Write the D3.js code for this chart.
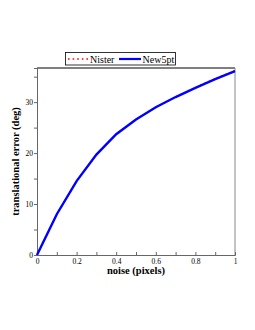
<!DOCTYPE html>
<html><head><meta charset="utf-8">
<script src="https://cdn.jsdelivr.net/npm/d3@7"></script>
<style>body{margin:0;background:#fff}svg{display:block}</style>
</head><body>
<script>
const noise = [0,0.1,0.2,0.3,0.4,0.5,0.6,0.7,0.8,0.9,1.0];
const nister = [0,8.0,14.5,19.7,23.7,26.6,29.0,31.0,32.9,34.6,36.2];
const new5pt = [0,8.0,14.5,19.7,23.7,26.6,29.0,31.0,32.8,34.5,36.1];
const xTicks = [0,0.2,0.4,0.6,0.8,1];
const yTicks = [0,10,20,30];
const seriesNames = ["Nister","New5pt"];

const W=255,H=330;
const m={l:37,r:20,t:68,b:75};
const svg=d3.select("body").append("svg").attr("width",W).attr("height",H);
const x=d3.scaleLinear().domain([0,1]).range([m.l,W-m.r]);
const y=d3.scaleLinear().domain([0,36.7]).range([H-m.b,m.t]);
const font="Liberation Serif, Times New Roman, serif";

// frame
svg.append("line").attr("x1",x(0)).attr("x2",x(1)).attr("y1",y.range()[1]).attr("y2",y.range()[1]).attr("stroke","#000");
svg.append("line").attr("x1",x(1)).attr("x2",x(1)).attr("y1",y.range()[0]).attr("y2",y.range()[1]).attr("stroke","#888");

// axes
const xa=svg.append("g").attr("transform",`translate(0,${y(0)})`)
  .call(d3.axisBottom(x).tickValues(d3.range(0,1.01,0.1)).tickSize(-3).tickFormat(d=>xTicks.some(t=>Math.abs(t-d)<1e-6)?d3.format("~g")(d):""));
const ya=svg.append("g").attr("transform",`translate(${x(0)},0)`)
  .call(d3.axisLeft(y).tickValues(d3.range(0,36,5)).tickSize(3).tickFormat(d=>yTicks.includes(d)?d:""));
[xa,ya].forEach(g=>{g.selectAll("path").attr("stroke","#666");g.selectAll("line").attr("stroke","#666");
  g.selectAll("text").attr("font-family",font).attr("font-size",7.5).attr("fill","#000");});
xa.selectAll("text").attr("y",4).attr("dy","0.71em");
ya.selectAll("text").attr("x",-4);

// lines
const pts=v=>noise.map((n,i)=>[x(n),y(v[i])]);
svg.append("path").attr("d",d3.line()(pts(nister))).attr("fill","none").attr("stroke","#ff0000").attr("stroke-width",1.4).attr("stroke-dasharray","1.5,3");
svg.append("path").attr("d",d3.line()(pts(new5pt))).attr("fill","none").attr("stroke","#0000ff").attr("stroke-width",2.4);

// labels
svg.append("text").attr("x",(x(0)+x(1))/2).attr("y",274).attr("text-anchor","middle")
  .attr("font-family",font).attr("font-weight","bold").attr("font-size",10.5).text("noise (pixels)");
svg.append("text").attr("transform",`translate(19,${(y(0)+y(36.7))/2}) rotate(-90)`).attr("text-anchor","middle")
  .attr("font-family",font).attr("font-weight","bold").attr("font-size",10.5).text("translational error (deg)");

// legend
const lg=svg.append("g");
lg.append("rect").attr("x",65.5).attr("y",52.5).attr("width",110).attr("height",12.5).attr("fill","#fff").attr("stroke","#000").attr("stroke-width",0.8);
lg.append("line").attr("x1",68).attr("x2",88).attr("y1",59).attr("y2",59).attr("stroke","#ff0000").attr("stroke-width",1.6).attr("stroke-dasharray","1.6,3");
lg.append("text").attr("x",90).attr("y",62.5).attr("font-family",font).attr("font-size",10).text(seriesNames[0]);
lg.append("line").attr("x1",119).attr("x2",141).attr("y1",59).attr("y2",59).attr("stroke","#0000ff").attr("stroke-width",2.2);
lg.append("text").attr("x",142.5).attr("y",62.5).attr("font-family",font).attr("font-size",10).text(seriesNames[1]);
</script>
</body></html>
